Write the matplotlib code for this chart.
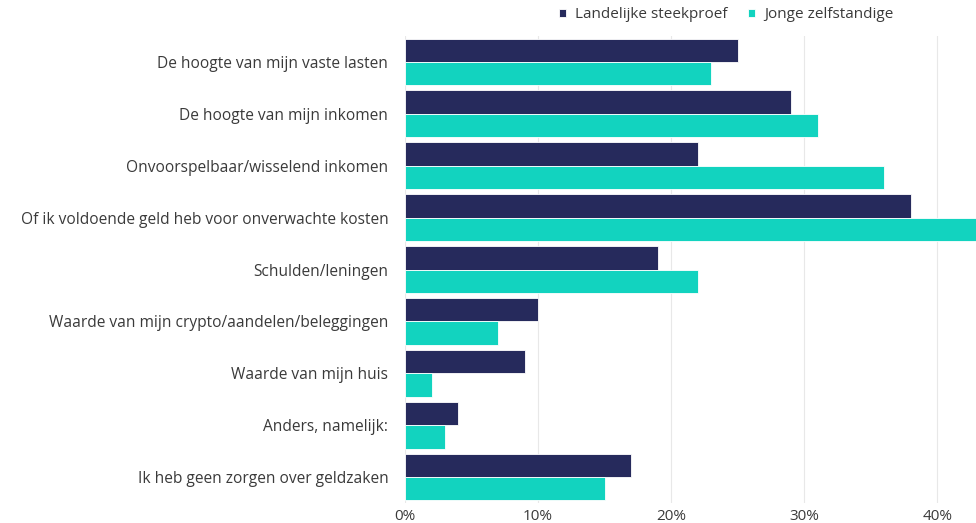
import matplotlib
matplotlib.use("Agg")
import matplotlib.pyplot as plt
from matplotlib.ticker import FuncFormatter
import numpy as np

categories = [
    "De hoogte van mijn vaste lasten",
    "De hoogte van mijn inkomen",
    "Onvoorspelbaar/wisselend inkomen",
    "Of ik voldoende geld heb voor onverwachte kosten",
    "Schulden/leningen",
    "Waarde van mijn crypto/aandelen/beleggingen",
    "Waarde van mijn huis",
    "Anders, namelijk:",
    "Ik heb geen zorgen over geldzaken",
]
landelijk = [25, 29, 22, 38, 19, 10, 9, 4, 17]
jonge = [23, 31, 36, 44, 22, 7, 2, 3, 15]
xticks = [0, 10, 20, 30, 40]

navy = "#262a5c"
cyan = "#12d3bf"
txt = "#3a3a3a"

plt.rcParams['font.family'] = ['Open Sans', 'DejaVu Sans']

fig = plt.figure(figsize=(9.76, 5.23), dpi=100)
ax = fig.add_axes([405/976, (523-503)/523, 1 - 405/976, (503-36)/523])

y = np.arange(len(categories))
h = 0.45
ax.barh(y - h/2, landelijk, height=h, color=navy, edgecolor="white", linewidth=0.6,
        label="Landelijke steekproef", zorder=3)
ax.barh(y + h/2, jonge, height=h, color=cyan, edgecolor="white", linewidth=0.6,
        label="Jonge zelfstandige", zorder=3)

ax.set_ylim(len(categories) - 0.5, -0.5)
ax.set_xlim(0, 42.9)
ax.set_yticks(y)
ax.set_yticklabels(categories, fontsize=11.2, color=txt)
ax.set_xticks(xticks)
ax.xaxis.set_major_formatter(FuncFormatter(lambda v, p: f"{v:.0f}%"))
ax.tick_params(axis='x', length=0, pad=4, labelsize=11, labelcolor=txt)
ax.tick_params(axis='y', length=0, pad=12)
ax.grid(axis='x', color="#e8e8e8", linewidth=0.8, zorder=0)
for s in ax.spines.values():
    s.set_visible(False)

fig.legend(loc="upper right", bbox_to_anchor=(0.93, 1.012), ncol=2, frameon=False,
           fontsize=11, handlelength=0.5, handleheight=0.5, handletextpad=0.6,
           columnspacing=1.3, labelcolor=txt)

fig.savefig("out.png", dpi=100)
